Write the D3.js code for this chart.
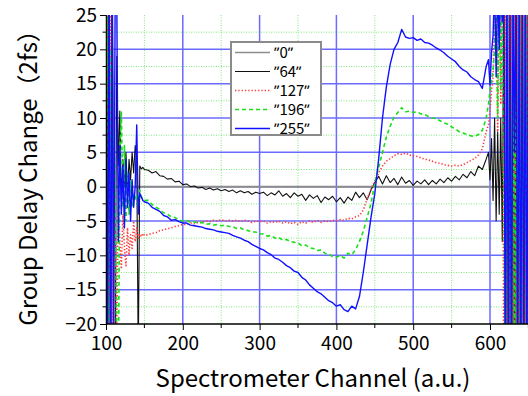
<!DOCTYPE html>
<html><head><meta charset="utf-8">
<script src="https://cdn.jsdelivr.net/npm/d3@7"></script>
<style>
html,body{margin:0;padding:0;background:#fff;}
svg{display:block;}
text{font-family:"Noto Sans CJK JP","Noto Sans",sans-serif;fill:#000;}
</style></head>
<body>
<script>
// ---------- data ----------
const channels = [
100,102,104,106,108,110,112,114,116,118,120,122,124,126,128,130,132,134,136,138,140,142,144,146,148,150,
155,160,165,170,175,180,185,190,195,200,205,210,215,220,225,230,235,240,245,250,255,260,265,270,275,280,285,290,295,300,
305,310,315,320,325,330,335,340,345,350,355,360,365,370,375,380,385,390,395,400,405,410,415,420,425,430,435,440,445,450,
455,460,465,470,475,480,485,490,495,500,505,510,515,520,525,530,535,540,545,550,555,560,565,570,575,580,585,590,595,
598,600,602,604,606,608,610,612,614,616,618,620,622,624,626,628,630,632,634,636,638,640,642,644,646,648,650];

const s0 = [
30,-30,30,-30,30,0,0,0,0,0,0,0,0,0,0,0,0,0,0,0,0,0,0,0,0,0,
0,0,0,0,0,0,0,0,0,0,0,0,0,0,0,0,0,0,0,0,0,0,0,0,0,0,0,0,0,0,
0,0,0,0,0,0,0,0,0,0,0,0,0,0,0,0,0,0,0,0,0,0,0,0,0,0,0,0,0,0,
0,0,0,0,0,0,0,0,0,0,0,0,0,0,0,0,0,0,0,0,0,0,0,0,0,0,0,0,0,
0,0,0,0,0,0,0,0,0,0,0,0,-30,30,-30,30,-30,30,-30,30,-30,30,-30,30,-30,30,-30];

const s64 = [
2,5,30,-30,30,-30,-25,19,3,11,-2,4,0,5,-1,4,1,5,2,6,4,-25,3,2.6,2.8,2.5,
2.4,2.0,2.2,1.6,1.5,1.1,1.2,0.7,0.8,0.3,0.4,0.0,0.1,-0.2,-0.1,-0.4,-0.2,-0.5,-0.3,-0.6,-0.4,-0.7,-0.5,-0.9,-0.6,-0.9,-0.7,-1.1,-0.8,-1.0,
-0.8,-1.3,-0.9,-1.2,-0.6,-1.4,-1.0,-1.6,-0.9,-1.4,-1.1,-2.0,-1.2,-1.7,-1.3,-2.3,-1.5,-1.9,-1.4,-2.2,-1.6,-2.4,-1.5,-2.0,-0.8,-1.6,-0.9,-1.9,-0.5,0.6,
1.5,0.4,1.6,0.6,1.2,0.3,1.4,0.5,0.9,0.2,0.8,0.4,1.0,0.3,0.9,0.4,1.1,0.6,1.3,0.8,1.5,1.0,1.8,1.3,2.2,1.6,3.0,2.5,4.0,
5,1,7,-2,10,-5,8,-4,10,-8,30,-30,30,-30,10,-30,30,-30,30,-30,30,-30,30,-30,30,-30,30];

const s127 = [
0,30,-30,30,-30,10,-5,-20,-3,-8,-12,-4,-9,-11.5,-6,-10,-7,-9,-5,-8,-6,-7.5,-6.9,-7.3,-6.8,-7.1,
-7.0,-6.8,-6.7,-6.4,-6.3,-6.1,-6.0,-5.8,-5.7,-5.5,-5.5,-5.3,-5.4,-5.2,-5.2,-5.0,-5.1,-4.9,-5.0,-4.8,-5.0,-4.9,-5.0,-4.9,-5.1,-4.9,-5.0,-5.2,-5.0,-5.1,
-5.0,-5.3,-5.1,-5.2,-5.0,-5.3,-5.1,-5.4,-5.2,-5.5,-5.1,-5.3,-5.0,-5.2,-4.9,-5.2,-5.0,-5.1,-4.9,-5.0,-4.8,-4.9,-4.6,-4.7,-4.4,-4.2,-3.4,-1.8,-0.4,0.8,
2.0,3.0,3.7,4.1,4.5,4.8,4.7,4.9,4.6,4.5,4.4,4.2,4.0,3.9,3.7,3.5,3.4,3.2,3.1,3.0,3.1,3.0,3.2,3.5,3.8,4.1,4.6,5.5,8.0,
9,11,14,16,25,30,8,30,12,30,-30,30,-30,30,-30,30,-30,30,-30,30,-30,30,-30,30,-30,30,-30];

const s196 = [
-30,30,-30,20,5,8,2,-25,-30,4,11,-3,6,-5,2,-4,1,-3,-1,-2,-1,-3,-0.5,-1.5,-1.8,-2,
-2.0,-2.6,-3.0,-3.3,-3.8,-4.0,-4.4,-4.5,-4.9,-5.0,-4.9,-5.2,-5.1,-5.3,-5.2,-5.5,-5.4,-5.6,-5.5,-5.7,-5.6,-5.8,-5.8,-6.1,-6.0,-6.3,-6.4,-6.6,-6.6,-6.9,
-6.9,-7.2,-7.1,-7.5,-7.4,-7.8,-7.7,-8.0,-8.1,-8.2,-8.6,-8.5,-8.9,-9.0,-9.3,-9.2,-9.7,-9.8,-10.2,-10.3,-10.0,-10.4,-9.7,-9.9,-9.2,-8.0,-6.5,-4.5,-2.5,0.5,
2.8,5.0,7.2,8.8,10.1,10.8,11.5,10.9,11.0,10.8,10.9,10.6,10.5,10.2,10.0,9.9,9.6,9.3,9.1,8.7,8.4,8.0,7.8,7.6,7.4,7.3,7.6,8.2,10.0,
12,14,15.4,17,20,30,10,30,14,30,0,-30,30,-30,30,-30,30,-30,30,-30,30,-30,30,-30,30,-30,30];

const s255 = [
30,-30,30,-30,30,-25,30,28,-8,6,-4,3,-6,4,-3,2,-5,1,-3,0,9,-4,-1,-1.5,-2,-2.2,
-2.4,-3.0,-3.3,-3.6,-4.2,-4.4,-4.9,-4.8,-5.1,-5.3,-5.3,-5.6,-5.7,-5.8,-5.9,-6.1,-6.2,-6.3,-6.5,-6.6,-6.7,-6.8,-7.1,-7.3,-7.5,-7.8,-8.0,-8.4,-8.7,-9.0,
-9.2,-9.6,-9.9,-10.4,-10.6,-11.0,-11.5,-11.8,-12.3,-12.5,-13.2,-13.6,-14.3,-14.8,-15.3,-15.6,-16.1,-16.6,-16.9,-17.4,-17.2,-17.9,-18.2,-17.4,-17.8,-16.0,-12.5,-8.5,-4.5,-1.0,
4.0,10.0,14.5,17.8,20.0,21.0,22.9,21.8,21.6,21.7,21.3,21.5,21.0,20.9,20.6,20.2,19.9,19.5,19.0,18.6,18.2,17.5,17.0,16.7,16.0,15.6,15.3,14.3,17.5,
18.5,14.8,19.5,22,30,16,30,20,30,24,30,-30,30,-30,30,-30,30,5,30,-30,30,-30,30,-30,30,-30,30];

const seriesNames = ["ʺ0ʺ","ʺ64ʺ","ʺ127ʺ","ʺ196ʺ","ʺ255ʺ"];
const xTicks = [100,200,300,400,500,600];
const yTicks = [-20,-15,-10,-5,0,5,10,15,20,25];
const xTitle = "Spectrometer Channel (a.u.)";
const yTitle = "Group Delay Change（2fs）";

// ---------- drawing ----------
const W = 528, H = 396;
const svg = d3.select("body").append("svg").attr("width", W).attr("height", H);

const x = d3.scaleLinear().domain([100, 650]).range([106, 528.4]);
const y = d3.scaleLinear().domain([-20, 25]).range([324, 15]);

const styles = [
  {color:"#8c8c8c", width:2, dash:null},
  {color:"#111111", width:1.1, dash:null},
  {color:"#ff3b3b", width:1.6, dash:"1.3,2"},
  {color:"#16e016", width:1.6, dash:"4,3"},
  {color:"#1010ff", width:1.4, dash:null}
];
const allSeries = [s0, s64, s127, s196, s255];

svg.append("defs").append("clipPath").attr("id","plot")
  .append("rect").attr("x",106).attr("y",15).attr("width",W-106).attr("height",309);

// minor grid (green dotted)
const g = svg.append("g");
const xMinor = [150,250,350,450,550,650];
const yMinor = [-17.5,-12.5,-7.5,-2.5,2.5,7.5,12.5,17.5,22.5];
g.selectAll(".xm").data(xMinor).join("line")
  .attr("x1",d=>x(d)).attr("x2",d=>x(d)).attr("y1",y(25)).attr("y2",y(-20))
  .attr("stroke","#7ee87e").attr("stroke-width",1).attr("stroke-dasharray","1,1.5");
g.selectAll(".ym").data(yMinor).join("line")
  .attr("x1",x(100)).attr("x2",W).attr("y1",d=>y(d)).attr("y2",d=>y(d))
  .attr("stroke","#7ee87e").attr("stroke-width",1).attr("stroke-dasharray","1,1.5");
// major grid (blue)
g.selectAll(".xM").data([200,300,400,500,600]).join("line")
  .attr("x1",d=>x(d)).attr("x2",d=>x(d)).attr("y1",y(25)).attr("y2",y(-20))
  .attr("stroke","#6b6bff").attr("stroke-width",1.5);
g.selectAll(".yM").data([-15,-10,-5,0,5,10,15,20]).join("line")
  .attr("x1",x(100)).attr("x2",W).attr("y1",d=>y(d)).attr("y2",d=>y(d))
  .attr("stroke","#6b6bff").attr("stroke-width",1.5);

// data lines
const line = d3.line().x((d,i)=>x(channels[i])).y(d=>y(d));
const lg = svg.append("g").attr("clip-path","url(#plot)");
allSeries.forEach((s,i)=>{
  lg.append("path").datum(s).attr("d",line)
    .attr("fill","none").attr("stroke",styles[i].color)
    .attr("stroke-width",styles[i].width)
    .attr("stroke-dasharray",styles[i].dash)
    .attr("stroke-linejoin","round");
});

// axes
const fmt = d3.format("");
const xAxis = svg.append("g").attr("transform",`translate(0,${y(-20)})`)
  .call(d3.axisBottom(x).tickValues(xTicks).tickSize(6).tickSizeOuter(0).tickPadding(7).tickFormat(fmt));
xAxis.select(".domain").attr("d",`M${x(100)},0H${W}`).attr("stroke-width",1.5);
xAxis.selectAll("text").attr("font-size",19);
svg.append("g").attr("transform",`translate(0,${y(-20)})`)
  .selectAll("line").data(xMinor).join("line")
  .attr("x1",d=>x(d)).attr("x2",d=>x(d)).attr("y1",0).attr("y2",4)
  .attr("stroke","#000");

const yAxis = svg.append("g").attr("transform",`translate(${x(100)},0)`)
  .call(d3.axisLeft(y).tickValues(yTicks).tickSize(6).tickSizeOuter(0).tickPadding(3).tickFormat(fmt));
yAxis.select(".domain").attr("stroke-width",1.5);
yAxis.selectAll("text").attr("font-size",19);
svg.append("g").attr("transform",`translate(${x(100)},0)`)
  .selectAll("line").data(yMinor).join("line")
  .attr("x1",-3.5).attr("x2",0).attr("y1",d=>y(d)).attr("y2",d=>y(d))
  .attr("stroke","#000");

// titles
svg.append("text").attr("x",313).attr("y",387).attr("text-anchor","middle")
  .attr("font-size",24).text(xTitle);
svg.append("text").attr("transform","translate(37,172) rotate(-90)")
  .attr("text-anchor","middle").attr("font-size",24).text(yTitle);

// legend
const leg = svg.append("g");
leg.append("rect").attr("x",231).attr("y",42).attr("width",90).attr("height",93)
  .attr("fill","#fff").attr("stroke","#8a8a8a").attr("stroke-width",2);
seriesNames.forEach((n,i)=>{
  const yy = 52.5 + i*19;
  leg.append("line").attr("x1",235).attr("x2",270).attr("y1",yy).attr("y2",yy)
    .attr("stroke",styles[i].color).attr("stroke-width",i===0?1.3:styles[i].width)
    .attr("stroke-dasharray",styles[i].dash);
  leg.append("text").attr("x",274).attr("y",yy+5.5).attr("font-size",15)
    .attr("font-family","'DejaVu Sans',sans-serif").text(n);
});
</script>
</body></html>
